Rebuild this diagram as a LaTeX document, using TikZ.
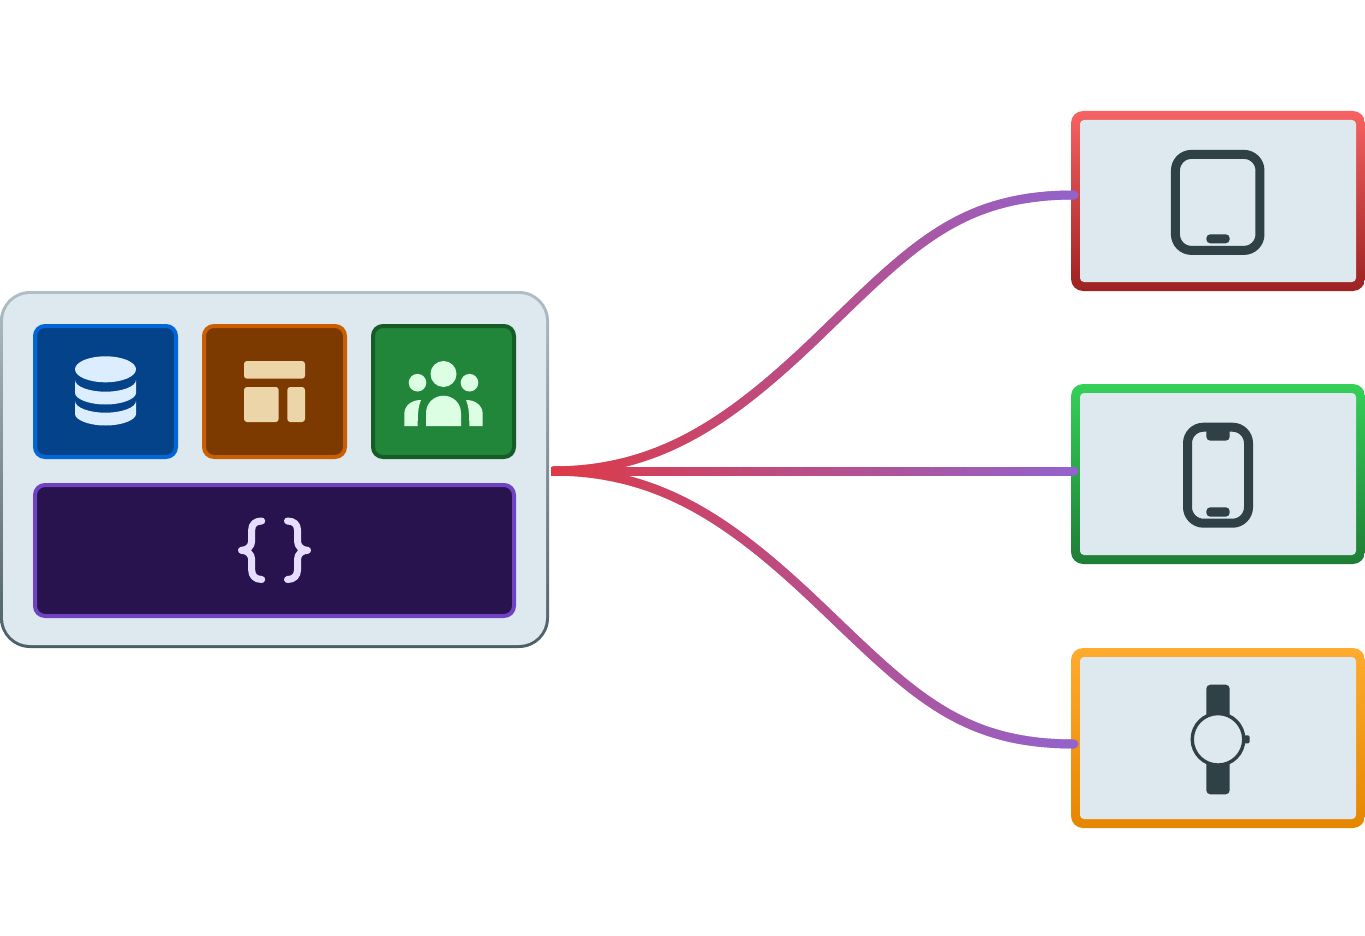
\documentclass[tikz,border=0pt]{standalone}
\usepackage{amsmath,amssymb}
\usetikzlibrary{decorations.markings}
\definecolor{panel}{HTML}{DDE9EF}
\definecolor{slate}{HTML}{2F4047}
\definecolor{connred}{HTML}{DE3A46}
\definecolor{connpurple}{HTML}{9263CC}
\definecolor{hubtop}{HTML}{B0BEC5}
\definecolor{hubbot}{HTML}{4D5F66}
\definecolor{dbfill}{HTML}{04428A}
\definecolor{dbline}{HTML}{0366D6}
\definecolor{dbicon}{HTML}{DBEDFF}
\definecolor{layfill}{HTML}{7C3A00}
\definecolor{layline}{HTML}{C95F00}
\definecolor{layicon}{HTML}{ECD5A9}
\definecolor{crowdfill}{HTML}{22863A}
\definecolor{crowdline}{HTML}{165C26}
\definecolor{crowdicon}{HTML}{DCFFE4}
\definecolor{codefill}{HTML}{29134E}
\definecolor{codeline}{HTML}{6F42C1}
\definecolor{codeicon}{HTML}{E6DCFD}
\definecolor{tabtop}{HTML}{F76262}
\definecolor{tabbot}{HTML}{9C2222}
\definecolor{photop}{HTML}{34D058}
\definecolor{phobot}{HTML}{1F7D36}
\definecolor{wattop}{HTML}{FFAB2E}
\definecolor{watbot}{HTML}{E58600}
\tikzset{
  tile/.style={draw=#1, line width=4pt, rounded corners=10pt, inner sep=0pt, minimum width=141pt, minimum height=131pt},
  devshell/.style={inner sep=0pt, minimum width=294pt, minimum height=180pt, rounded corners=12pt},
  devface/.style={fill=panel, inner sep=0pt, minimum width=276pt, minimum height=162pt, rounded corners=4pt},
  devicon/.style={draw=slate, line width=9pt, inner sep=0pt, rounded corners=16pt},
  bracestroke/.style={draw=codeicon, line width=7pt, line cap=round, line join=round},
  conn/.style={decorate, decoration={markings,
    mark=between positions 0 and 1 step 1pt with {%
      \pgfpointtransformed{\pgfpointorigin}\pgfgetlastxy{\gx}{\gy}%
      \pgfmathsetmacro\mixpct{min(100,max(0,(\gx-552)/5.24))}%
      \fill[connpurple!\mixpct!connred] (-0.8,-4.5) rectangle (0.8,4.5);}}}
}
\begin{document}
\begin{tikzpicture}[x=1pt,y=-1pt]
  \useasboundingbox (0,0) rectangle (1365,936);
  % left panel
  \node[inner sep=0pt, minimum width=549pt, minimum height=357pt, rounded corners=30pt, top color=hubtop, bottom color=hubbot] (hubshell) at (274.5,469.5) {};
  \node[fill=panel, inner sep=0pt, minimum width=543pt, minimum height=351pt, rounded corners=27pt] (hub) at (hubshell.center) {};
  \node[tile=dbline, fill=dbfill] (dbtile) at (105.5,391.5) {};
  \node[tile=layline, fill=layfill] (laytile) at (274.5,391.5) {};
  \node[tile=crowdline, fill=crowdfill] (crowdtile) at (443.5,391.5) {};
  \node[tile=codeline, fill=codefill, minimum width=479pt] (codetile) at (274.5,550.5) {};
  % database
  \fill[dbicon] (105.5,369.3) ellipse (30.5 and 13);
  \foreach \dy in {0,21}
    \fill[dbicon] (75,380+\dy) .. controls (75,386.5+\dy) and (89,391.7+\dy) .. (105.5,391.7+\dy) .. controls (122,391.7+\dy) and (136,386.5+\dy) .. (136,380+\dy) -- (136,393+\dy) .. controls (136,399+\dy) and (122,404.5+\dy) .. (105.5,404.5+\dy) .. controls (89,404.5+\dy) and (75,399+\dy) .. (75,393+\dy) -- cycle;
  % layout
  \fill[layicon, rounded corners=3pt] (244,361) rectangle (305,378.7);
  \fill[layicon, rounded corners=3pt] (244,387) rectangle (278.7,422);
  \fill[layicon, rounded corners=3pt] (287.3,387) rectangle (305,422);
  % people
  \fill[crowdicon] (443.5,374) circle (13);
  \fill[crowdicon] (417.5,382.7) circle (8.8);
  \fill[crowdicon] (469.5,382.7) circle (8.8);
  \fill[crowdicon] (426,426) -- (426,413.2) .. controls (426,403) and (434,395.7) .. (443.5,395.7) .. controls (453,395.7) and (461,403) .. (461,413.2) -- (461,426) -- cycle;
  \fill[crowdicon] (404.3,426) -- (404.3,414) .. controls (404.3,406) and (411,400) .. (421,400) .. controls (418.5,406) and (417.7,412) .. (417.7,426) -- cycle;
  \fill[crowdicon] (482.7,426) -- (482.7,414) .. controls (482.7,406) and (476,400) .. (466,400) .. controls (468.5,406) and (469.3,412) .. (469.3,426) -- cycle;
  % braces
  \draw[bracestroke] (261.7,521) .. controls (255,521) and (251.7,524.5) .. (251.7,530) -- (251.7,541) .. controls (251.7,546.5) and (247,550.3) .. (241.5,550.3) .. controls (247,550.3) and (251.7,554) .. (251.7,559.5) -- (251.7,570) .. controls (251.7,575.5) and (255,579.5) .. (261.7,579.5);
  \draw[bracestroke] (287.5,521) .. controls (294,521) and (297.5,524.5) .. (297.5,530) -- (297.5,541) .. controls (297.5,546.5) and (302,550.3) .. (307.5,550.3) .. controls (302,550.3) and (297.5,554) .. (297.5,559.5) -- (297.5,570) .. controls (297.5,575.5) and (294,579.5) .. (287.5,579.5);
  % tablet
  \node[devshell, top color=tabtop, bottom color=tabbot] (tabletshell) at (1218,201) {};
  \node[devface] (tablet) at (tabletshell.center) {};
  \node[devicon, minimum width=84.5pt, minimum height=96pt] (tableticon) at (1217.7,202.4) {};
  \fill[slate, rounded corners=4pt] (1206.3,234.3) rectangle (1229.7,243.3);
  % phone
  \node[devshell, top color=photop, bottom color=phobot] (phoneshell) at (1218,474) {};
  \node[devface] (phone) at (phoneshell.center) {};
  \node[devicon, minimum width=61pt, minimum height=96pt] (phoneicon) at (1218,475.2) {};
  \fill[slate, rounded corners=4pt] (1206.3,424) -- (1206.3,440.7) -- (1229.7,440.7) -- (1229.7,424) -- cycle;
  \fill[slate, rounded corners=4pt] (1206.3,507.3) rectangle (1229.7,516.7);
  % watch
  \node[devshell, top color=wattop, bottom color=watbot] (watchshell) at (1218,738) {};
  \node[devface] (watch) at (watchshell.center) {};
  \fill[slate, rounded corners=4pt] (1206.3,684.7) rectangle (1229.7,794.3);
  \fill[slate, rounded corners=1.5pt] (1244,735.3) rectangle (1249.7,743.3);
  \node[circle, draw=slate, fill=panel, line width=3.4pt, inner sep=0pt, minimum size=51.5pt] (watchface) at (1218,739.3) {};
  % connectors
  \coordinate (hubout) at (552,471);
  \coordinate (tabletin) at (1074,195);
  \coordinate (phonein) at (1074,471);
  \coordinate (watchin) at (1074,744);
  \path[conn] (hubout) .. controls (660,471) and (732,420) .. (822,333) .. controls (912,246) and (960,195) .. (tabletin);
  \path[conn] (hubout) -- (phonein);
  \path[conn] (hubout) .. controls (660,471) and (732,521.4) .. (822,607.5) .. controls (912,693.5) and (960,744) .. (watchin);
  \foreach \port in {tabletin,phonein,watchin}
    \fill[connpurple] (\port) circle (4.5); % round tip on the box edge
\end{tikzpicture}
\end{document}
